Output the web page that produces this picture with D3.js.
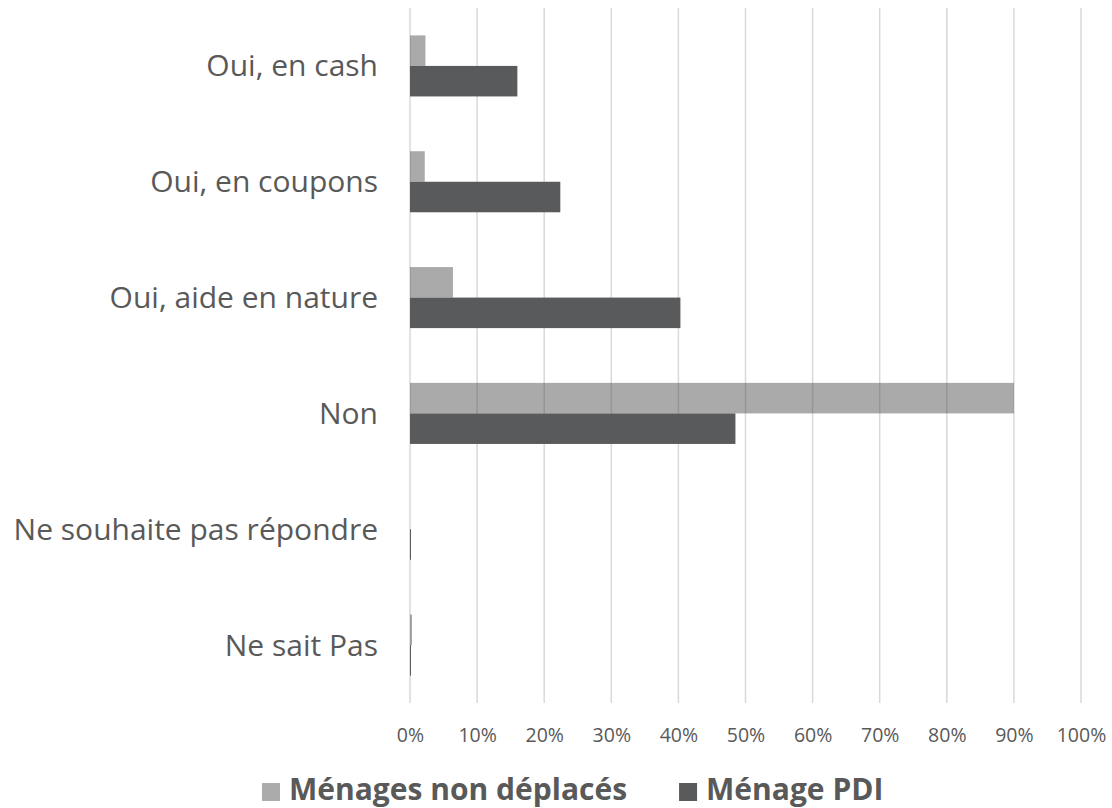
<!DOCTYPE html>
<html>
<head>
<meta charset="utf-8">
<script src="https://cdn.jsdelivr.net/npm/d3@7"></script>
<style>
  html, body { margin: 0; padding: 0; background: #fff; }
  svg { display: block; }
</style>
</head>
<body>
<svg id="chart" width="1112" height="808"></svg>
<script>
// Aide reçue par les ménages : répartition des réponses (%)
const categories = [
  "Oui, en cash",
  "Oui, en coupons",
  "Oui, aide en nature",
  "Non",
  "Ne souhaite pas répondre",
  "Ne sait Pas"
];
const seriesNames = ["Ménages non déplacés", "Ménage PDI"];
const nonDeplaces = [2.3, 2.2, 6.4, 90.0, 0, 0.3];
const menagePDI   = [16.0, 22.4, 40.3, 48.5, 0.15, 0.15];
const tickValues  = [0, 10, 20, 30, 40, 50, 60, 70, 80, 90, 100];

const seriesValues = [nonDeplaces, menagePDI];
const seriesStyle = [
  { fill: "rgb(74,75,74)", opacity: 0.47 },
  { fill: "#595a5c", opacity: 1 }
];
const legendFill = ["#aaabaa", "#595a5c"];

const svg = d3.select("#chart");
const textColor = "#595959";
const labelFont = "'Open Sans', 'Noto Sans', sans-serif";

const plot = { left: 410, right: 1081, top: 8, bottom: 703 };

const x = d3.scaleLinear().domain([0, 100]).range([plot.left, plot.right]);
const y = d3.scaleBand()
  .domain(categories)
  .range([plot.top, plot.bottom])
  .paddingInner(0.473)
  .paddingOuter(0.2365);
const ySub = d3.scaleBand()
  .domain(d3.range(seriesNames.length))
  .range([0, y.bandwidth()]);

// vertical gridlines
svg.append("g")
  .selectAll("line")
  .data(tickValues)
  .join("line")
  .attr("x1", d => x(d)).attr("x2", d => x(d))
  .attr("y1", plot.top).attr("y2", plot.bottom)
  .attr("stroke", "#d9d9d9")
  .attr("stroke-width", 1.5);

// bars
const rows = categories.map((c, i) => ({
  cat: c,
  vals: seriesValues.map((s, k) => ({ k, v: s[i] }))
}));

svg.append("g")
  .selectAll("g")
  .data(rows)
  .join("g")
  .attr("transform", d => `translate(0,${y(d.cat)})`)
  .selectAll("rect")
  .data(d => d.vals)
  .join("rect")
  .attr("x", x(0))
  .attr("y", d => ySub(d.k))
  .attr("width", d => x(d.v) - x(0))
  .attr("height", ySub.bandwidth())
  .attr("fill", d => seriesStyle[d.k].fill)
  .attr("fill-opacity", d => seriesStyle[d.k].opacity);

// category labels
svg.append("g")
  .selectAll("text")
  .data(categories)
  .join("text")
  .attr("x", plot.left - 32)
  .attr("y", d => y(d) + y.bandwidth() / 2 + 10.5)
  .attr("text-anchor", "end")
  .attr("font-family", labelFont)
  .attr("font-size", 30)
  .attr("fill", textColor)
  .text(d => d);

// x axis tick labels
const xAxis = d3.axisBottom(x)
  .tickValues(tickValues)
  .tickFormat(d => d + "%")
  .tickSize(0)
  .tickPadding(0);
const axisG = svg.append("g")
  .attr("transform", `translate(0,${plot.bottom})`)
  .call(xAxis);
axisG.select(".domain").remove();
axisG.selectAll("text")
  .attr("y", 39)
  .attr("dy", 0)
  .attr("font-family", labelFont)
  .attr("font-size", 19.5)
  .attr("fill", textColor);

// legend
const legend = svg.append("g").attr("transform", "translate(0,800)");
let cursor = 262;
seriesNames.forEach((name, i) => {
  legend.append("rect")
    .attr("x", cursor).attr("y", -17)
    .attr("width", 18).attr("height", 18)
    .attr("fill", legendFill[i]);
  const t = legend.append("text")
    .attr("x", cursor + 27)
    .attr("y", 0)
    .attr("font-family", labelFont)
    .attr("font-weight", 700)
    .attr("font-size", 30)
    .attr("fill", textColor)
    .text(name);
  cursor = cursor + 27 + t.node().getComputedTextLength() + 52;
});
</script>
</body>
</html>
